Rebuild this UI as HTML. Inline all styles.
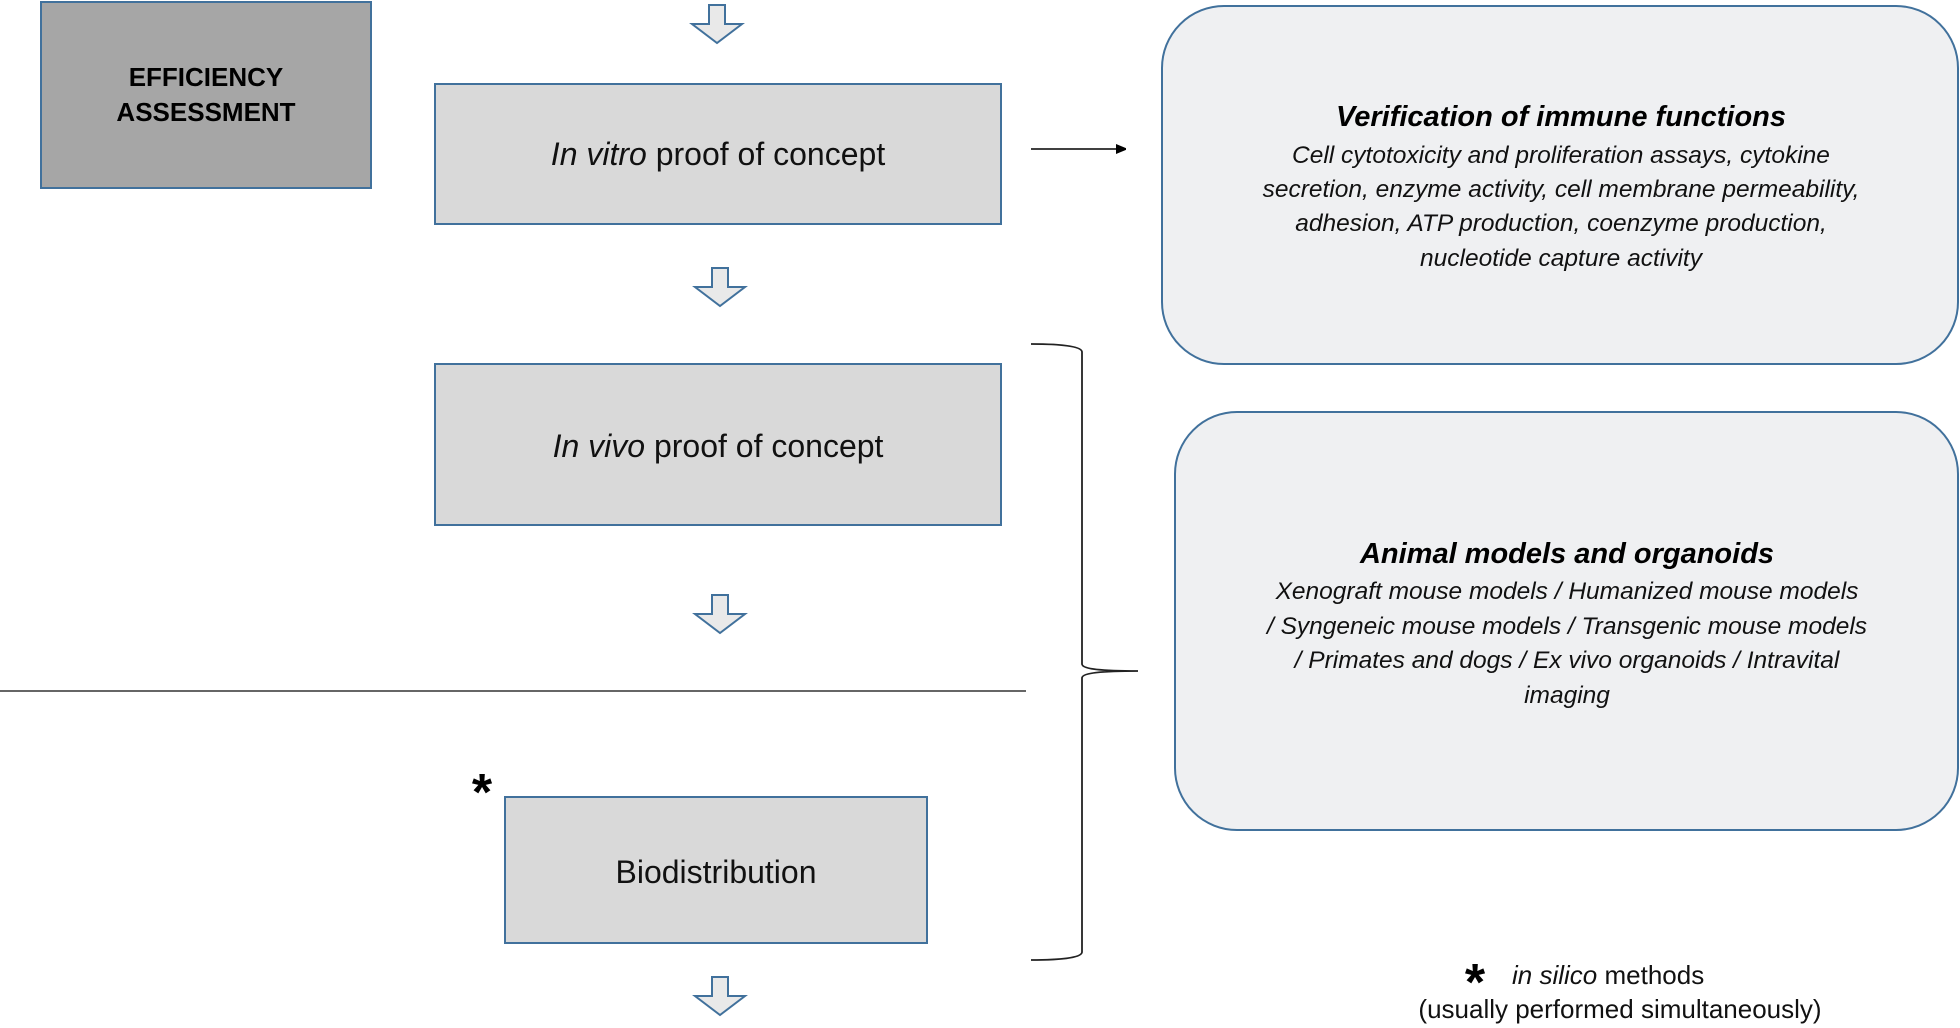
<!DOCTYPE html>
<html><head><meta charset="utf-8"><style>
html,body{margin:0;padding:0;background:#fff;}
svg{display:block;font-family:"Liberation Sans",Arial,sans-serif;}
</style></head><body>
<svg width="1960" height="1028" viewBox="0 0 1960 1028" xmlns="http://www.w3.org/2000/svg">
<defs>
<marker id="ah" markerWidth="10" markerHeight="10" refX="9" refY="5" orient="auto" markerUnits="userSpaceOnUse"><path d="M0,0 L12,5 L0,10 z" fill="#000"/></marker>
<g id="dn"><path d="M-8,0 H8 V19 H25 L0,38 L-25,19 H-8 Z" fill="#e9e9e9" stroke="#41719c" stroke-width="2"/></g>
</defs>
<rect x="41" y="2" width="330" height="186" fill="#a6a6a6" stroke="#41719c" stroke-width="2"/>
<text x="206" y="86" font-size="26" font-weight="bold" text-anchor="middle" fill="#000">EFFICIENCY</text>
<text x="206" y="121" font-size="26" font-weight="bold" text-anchor="middle" fill="#000">ASSESSMENT</text>

<use href="#dn" x="717" y="5"/>
<rect x="435" y="84" width="566" height="140" fill="#d9d9d9" stroke="#41719c" stroke-width="2"/>
<text x="718" y="165" font-size="32" text-anchor="middle" fill="#111"><tspan font-style="italic">In vitro</tspan> proof of concept</text>
<line x1="1031" y1="149" x2="1125" y2="149" stroke="#000" stroke-width="1.6" marker-end="url(#ah)"/>
<use href="#dn" x="720" y="268"/>
<rect x="435" y="364" width="566" height="161" fill="#d9d9d9" stroke="#41719c" stroke-width="2"/>
<text x="718" y="457" font-size="32" text-anchor="middle" fill="#111"><tspan font-style="italic">In vivo</tspan> proof of concept</text>
<use href="#dn" x="720" y="595"/>
<line x1="0" y1="691" x2="1026" y2="691" stroke="#333" stroke-width="1.5"/>
<text x="482" y="810" font-size="52" font-weight="bold" text-anchor="middle" fill="#000">*</text>
<rect x="505" y="797" width="422" height="146" fill="#d9d9d9" stroke="#41719c" stroke-width="2"/>
<text x="716" y="883" font-size="32" text-anchor="middle" fill="#111">Biodistribution</text>
<use href="#dn" x="720" y="977"/>

<path d="M1031,344 C1060,344 1082,346 1082,352 V664 C1082,670 1110,671 1138,671 C1110,671 1082,672 1082,678 V952 C1082,958 1060,960 1031,960" fill="none" stroke="#222" stroke-width="1.8"/>

<rect x="1162" y="6" width="796" height="358" rx="62" ry="62" fill="#eff0f2" stroke="#41719c" stroke-width="2"/>
<text x="1561" y="126" font-size="29" font-weight="bold" font-style="italic" text-anchor="middle" fill="#000">Verification of immune functions</text>
<g font-size="24.5" font-style="italic" text-anchor="middle" fill="#111">
<text x="1561" y="163">Cell cytotoxicity and proliferation assays, cytokine</text>
<text x="1561" y="197">secretion, enzyme activity, cell membrane permeability,</text>
<text x="1561" y="231">adhesion, ATP production, coenzyme production,</text>
<text x="1561" y="266">nucleotide capture activity</text>
</g>

<rect x="1175" y="412" width="783" height="418" rx="62" ry="62" fill="#eff0f2" stroke="#41719c" stroke-width="2"/>
<text x="1567" y="563" font-size="29" font-weight="bold" font-style="italic" text-anchor="middle" fill="#000">Animal models and organoids</text>
<g font-size="24.5" font-style="italic" text-anchor="middle" fill="#111">
<text x="1567" y="599">Xenograft mouse models / Humanized mouse models</text>
<text x="1567" y="634">/ Syngeneic mouse models / Transgenic mouse models</text>
<text x="1567" y="668">/ Primates and dogs / Ex vivo organoids / Intravital</text>
<text x="1567" y="703">imaging</text>
</g>

<text x="1475" y="1000" font-size="52" font-weight="bold" text-anchor="middle" fill="#000">*</text>
<text x="1512" y="984" font-size="26" fill="#111"><tspan font-style="italic">in silico</tspan> methods</text>
<text x="1620" y="1018" font-size="26" text-anchor="middle" fill="#111">(usually performed simultaneously)</text>
</svg>
</body></html>
